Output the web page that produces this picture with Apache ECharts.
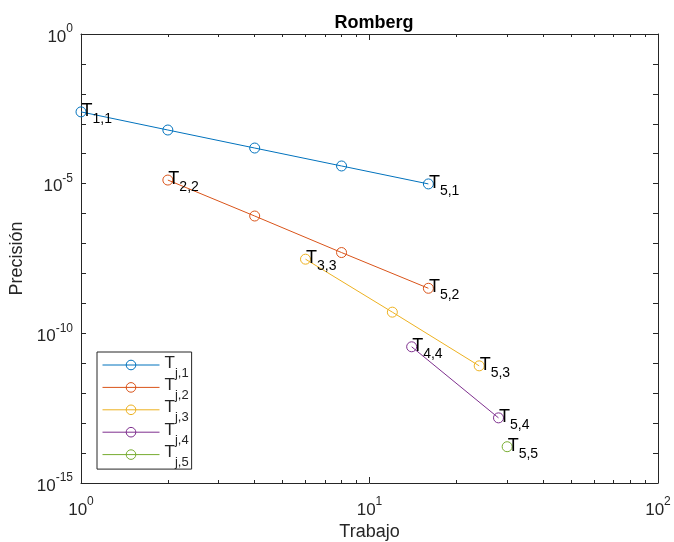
<!DOCTYPE html>
<html>
<head>
<meta charset="utf-8">
<script src="https://cdn.jsdelivr.net/npm/echarts@6/dist/echarts.min.js"></script>
<style>
  html, body {margin: 0; padding: 0; background: #fff;}
  #chart {width: 674px; height: 542px;}
</style>
</head>
<body>
<div id="chart"></div>
<script>
// work (number of function evaluations) and error of each Romberg column
const work1 = [1, 2, 4, 8, 16];
const err1 = [2.5e-3, 6.2e-4, 1.55e-4, 3.9e-5, 9.8e-6];
const work2 = [2, 4, 8, 16];
const err2 = [1.32e-5, 8.3e-7, 5.0e-8, 3.2e-9];
const work3 = [6, 12, 24];
const err3 = [3.0e-8, 5.1e-10, 8.2e-12];
const work4 = [14, 28];
const err4 = [3.55e-11, 1.5e-13];
const work5 = [30];
const err5 = [1.63e-14];

const legendSubs = ['j,1', 'j,2', 'j,3', 'j,4', 'j,5'];
const colors = ['#0072BD', '#D95319', '#EDB120', '#7E2F8E', '#77AC30'];
const xMinorTicks = [2, 3, 4, 5, 6, 7, 8, 9, 20, 30, 40, 50, 60, 70, 80, 90];

const FONT = 'Liberation Sans';
const INK = '#262626';

const columns = [[work1, err1], [work2, err2], [work3, err3], [work4, err4], [work5, err5]];

const chart = echarts.init(document.getElementById('chart'));

const series = columns.map(([w, e], k) => {
  const col = k + 1;
  const last = w.length - 1;
  return {
    name: legendSubs[k],
    type: 'line',
    symbol: 'circle',
    symbolSize: 10,
    lineStyle: {width: 1, color: colors[k]},
    itemStyle: {color: 'rgba(255,255,255,0)', borderColor: colors[k], borderWidth: 1},
    emphasis: {disabled: true},
    data: w.map((x, i) => {
      const row = col + i;
      return {
        value: [Math.log10(x), Math.log10(e[i])],
        label: {
          show: i === 0 || i === last,
          formatter: '{t|T}{s|' + row + ',' + col + '}'
        }
      };
    }),
    label: {
      position: 'right',
      distance: -5,
      fontFamily: FONT,
      rich: {
        t: {fontSize: 18, color: '#000', fontFamily: FONT, padding: [0, 0, 2, 0]},
        s: {fontSize: 14, color: '#000', fontFamily: FONT, padding: [14, 0, 0, 0]}
      }
    }
  };
});

const supRich = {
  b: {fontSize: 17, color: INK, fontFamily: FONT, padding: [6, 0, 0, 0]},
  e: {fontSize: 12, color: INK, fontFamily: FONT, padding: [0, 0, 10, 0]}
};
const supRichX = {
  b: {fontSize: 17, color: INK, fontFamily: FONT},
  e: {fontSize: 12, color: INK, fontFamily: FONT, padding: [0, 0, 16, 0]}
};

const xBase = {type: 'value', min: 0, max: 2, splitLine: {show: false}};
const yBase = {type: 'value', min: -15, max: 0, interval: 1, splitLine: {show: false}};

chart.setOption({
  animation: false,
  title: {
    text: 'Romberg',
    left: 369,
    textAlign: 'center',
    top: 9,
    textStyle: {fontFamily: FONT, fontSize: 18, fontWeight: 'bold', color: '#000'}
  },
  grid: {left: 81, right: 16, top: 34, bottom: 59, containLabel: false, outerBoundsMode: 'none'},
  legend: {
    orient: 'vertical',
    left: 97,
    top: 352,
    padding: [2.5, 3, 0, 5],
    itemGap: -2.6,
    itemWidth: 57,
    itemHeight: 12,
    borderColor: INK,
    borderWidth: 1,
    backgroundColor: '#fff',
    itemStyle: {borderWidth: 1},
    lineStyle: {width: 1},
    data: legendSubs,
    formatter: name => '{t|T}{s|' + name + '}',
    textStyle: {
      fontFamily: FONT,
      rich: {
        t: {fontSize: 17, color: INK, fontFamily: FONT, padding: [0, 0, 4, 0]},
        s: {fontSize: 13, color: INK, fontFamily: FONT, padding: [16, 0, 0, 0]}
      }
    }
  },
  xAxis: [
    Object.assign({}, xBase, {
      position: 'bottom',
      interval: 1,
      name: 'Trabajo',
      nameLocation: 'middle',
      nameGap: 35,
      nameTextStyle: {fontFamily: FONT, fontSize: 18, color: INK},
      axisLine: {onZero: false, lineStyle: {color: INK, width: 1}},
      axisTick: {inside: true, length: 6, lineStyle: {color: INK}},
      axisLabel: {margin: 13, formatter: v => '{b|10}{e|' + v + '}', rich: supRichX}
    }),
    Object.assign({}, xBase, {
      position: 'bottom',
      axisLine: {show: false, onZero: false},
      axisLabel: {show: false},
      axisTick: {inside: true, length: 3, customValues: xMinorTicks.map(Math.log10), lineStyle: {color: INK}}
    }),
    Object.assign({}, xBase, {
      position: 'top',
      interval: 1,
      axisLine: {onZero: false, lineStyle: {color: INK, width: 1}},
      axisTick: {inside: true, length: 6, lineStyle: {color: INK}},
      axisLabel: {show: false}
    }),
    Object.assign({}, xBase, {
      position: 'top',
      axisLine: {show: false, onZero: false},
      axisLabel: {show: false},
      axisTick: {inside: true, length: 3, customValues: xMinorTicks.map(Math.log10), lineStyle: {color: INK}}
    })
  ],
  yAxis: [
    Object.assign({}, yBase, {
      position: 'left',
      name: 'Precisión',
      nameLocation: 'middle',
      nameGap: 52,
      nameTextStyle: {fontFamily: FONT, fontSize: 18, color: INK},
      axisLine: {onZero: false, lineStyle: {color: INK, width: 1}},
      axisTick: {inside: true, length: 5, lineStyle: {color: INK}},
      axisLabel: {margin: 8, formatter: v => (v % 5 === 0 ? '{b|10}{e|' + v + '}' : ''), rich: supRich}
    }),
    Object.assign({}, yBase, {
      position: 'right',
      axisLine: {onZero: false, lineStyle: {color: INK, width: 1}},
      axisTick: {inside: true, length: 5, lineStyle: {color: INK}},
      axisLabel: {show: false}
    })
  ],
  series: series
});
</script>
</body>
</html>
